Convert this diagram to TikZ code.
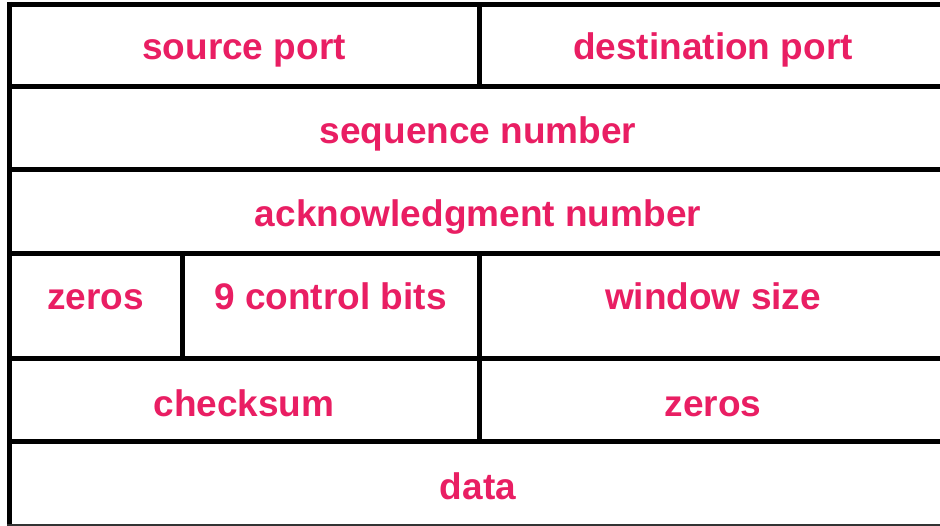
\documentclass[tikz,border=0pt]{standalone}
\usepackage{fontspec}
\setmainfont{Liberation Sans}
\definecolor{fieldpink}{RGB}{233,30,99}
\tikzset{
  field/.style={text=fieldpink, anchor=base, inner sep=0pt,
    font=\fontsize{37}{42}\selectfont\bfseries},
  rule/.style={draw, line width=5pt}
}
\begin{document}
\begin{tikzpicture}[x=1pt,y=-1pt]
\useasboundingbox[fill=white] (0,0) rectangle (940,526);
\coordinate (tl) at (9.5,2);
\coordinate (bl) at (9.5,526);
\coordinate (h0a) at (7,4.5);   \coordinate (h0b) at (940,4.5);
\coordinate (h1a) at (7,87);    \coordinate (h1b) at (940,87);
\coordinate (h2a) at (7,170);   \coordinate (h2b) at (940,170);
\coordinate (h3a) at (7,254);   \coordinate (h3b) at (940,254);
\coordinate (h4a) at (7,359);   \coordinate (h4b) at (940,359);
\coordinate (h5a) at (7,442);   \coordinate (h5b) at (940,442);
\coordinate (h6a) at (7,525);   \coordinate (h6b) at (940,525);

\node[field] (src) at (244,60) {source port};
\node[field] (dst) at (713,60) {destination port};
\node[field] (seq) at (478,143.5) {sequence number};
\node[field] (ack) at (478,227) {acknowledgment number};
\node[field] (zer) at (95.5,310) {zeros};
\node[field] (ctl) at (330.5,310) {9 control bits};
\node[field] (win) at (713,310) {window size};
\node[field] (chk) at (244,416.5) {checksum};
\node[field] (pad) at (713,416.5) {zeros};
\node[field] (dat) at (478,499) {data};

\path[rule] (tl) -- (bl);
\path[rule] (h0a) -- (h0b);
\path[rule] (h1a) -- (h1b);
\path[rule] (h2a) -- (h2b);
\path[rule] (h3a) -- (h3b);
\path[rule] (h4a) -- (h4b);
\path[rule] (h5a) -- (h5b);
\path[draw,line width=1.2pt,color=black!80] (h6a) -- (h6b);

\path[rule] (479,4.5) -- (479,87);
\path[rule] (182,254) -- (182,359);
\path[rule] (479,254) -- (479,442);
\end{tikzpicture}
\end{document}
